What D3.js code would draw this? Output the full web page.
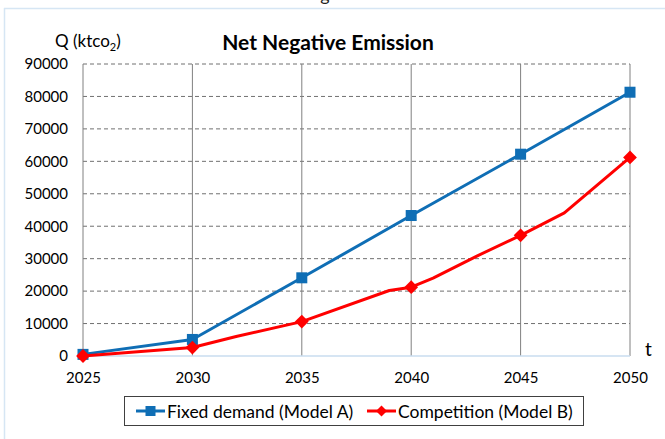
<!DOCTYPE html>
<html>
<head>
<meta charset="utf-8">
<script src="https://cdn.jsdelivr.net/npm/d3@7"></script>
<style>
  body { margin: 0; background: #fff; }
  svg { display: block; font-family: Lato, "Open Sans", sans-serif; }
</style>
</head>
<body>
<svg id="chart" width="665" height="439"></svg>
<script>
// Chart data
const years = [2025, 2030, 2035, 2040, 2045, 2050];
const yTicks = [0, 10000, 20000, 30000, 40000, 50000, 60000, 70000, 80000, 90000];
const fixedDemand = [500, 5100, 24100, 43300, 62200, 81300];
// Model B has extra bends between the 5-year markers
const competitionYears = [2025, 2030, 2032, 2035, 2039, 2040, 2041, 2043, 2045, 2047, 2050];
const competitionValues = [0, 2600, 6000, 10600, 20200, 21200, 24000, 30800, 37200, 44100, 61200];

const blue = '#0F6EB5';
const red = '#FF0000';

const margin = { top: 64, right: 35, bottom: 83, left: 83 };
const width = 665 - margin.left - margin.right;
const height = 439 - margin.top - margin.bottom;

const svg = d3.select('#chart');

// faint frame lines of the surrounding page
svg.append('line').attr('x1', 4).attr('x2', 665).attr('y1', 8.5).attr('y2', 8.5)
    .attr('stroke', '#d6e6f4').attr('stroke-width', 1.5);
svg.append('line').attr('x1', 4.5).attr('x2', 4.5).attr('y1', 8).attr('y2', 439)
    .attr('stroke', '#d6e6f4').attr('stroke-width', 1.5);
// clipped caption from above
svg.append('text').attr('x', 325).attr('y', 1).attr('text-anchor', 'middle')
    .attr('font-size', 18).attr('fill', '#222').text('g');

const g = svg.append('g').attr('transform', `translate(${margin.left},${margin.top})`);

const x = d3.scaleLinear().domain([2025, 2050]).range([0, width]);
const y = d3.scaleLinear().domain([0, 90000]).range([height, 0]);

// horizontal dashed grid
g.append('g')
    .selectAll('line')
    .data(yTicks.filter(d => d > 0))
    .enter()
    .append('line')
    .attr('x1', 0).attr('x2', width)
    .attr('y1', d => y(d)).attr('y2', d => y(d))
    .attr('stroke', '#707070')
    .attr('stroke-width', 1)
    .attr('stroke-dasharray', '4,3');

// vertical solid grid
g.append('g')
    .selectAll('line')
    .data(years)
    .enter()
    .append('line')
    .attr('x1', d => x(d)).attr('x2', d => x(d))
    .attr('y1', 0).attr('y2', height)
    .attr('stroke', '#808080')
    .attr('stroke-width', 1);

// baseline
g.append('line').attr('x1', 0).attr('x2', width).attr('y1', y(0)).attr('y2', y(0))
    .attr('stroke', '#c9dcef').attr('stroke-width', 1.5);

// axes
const yAxis = g.append('g')
    .call(d3.axisLeft(y).tickValues(yTicks).tickSize(0).tickPadding(15).tickFormat(d3.format('d')));
yAxis.select('.domain').remove();
yAxis.selectAll('text').attr('font-size', 15).attr('fill', '#000')
    .attr('font-family', 'Lato, "Open Sans", sans-serif');

const xAxis = g.append('g')
    .attr('transform', `translate(0,${height})`)
    .call(d3.axisBottom(x).tickValues(years).tickSize(0).tickPadding(16).tickFormat(d3.format('d')));
xAxis.select('.domain').remove();
xAxis.selectAll('text').attr('font-size', 15).attr('fill', '#000')
    .attr('font-family', 'Lato, "Open Sans", sans-serif');

// series lines
const line = d3.line().x(d => x(d[0])).y(d => y(d[1]));

const blueData = years.map((yr, i) => [yr, fixedDemand[i]]);
const redData = competitionYears.map((yr, i) => [yr, competitionValues[i]]);

g.append('path').datum(blueData)
    .attr('fill', 'none').attr('stroke', blue).attr('stroke-width', 3)
    .attr('stroke-linejoin', 'round').attr('d', line);

g.selectAll('.sq').data(blueData).enter().append('rect')
    .attr('x', d => x(d[0]) - 5.5).attr('y', d => y(d[1]) - 5.5)
    .attr('width', 11).attr('height', 11).attr('fill', blue);

g.append('path').datum(redData)
    .attr('fill', 'none').attr('stroke', red).attr('stroke-width', 3)
    .attr('stroke-linejoin', 'round').attr('d', line);

g.selectAll('.dm').data(redData.filter(d => d[0] % 5 === 0)).enter().append('path')
    .attr('transform', d => `translate(${x(d[0])},${y(d[1])}) rotate(45)`)
    .attr('d', d3.symbol().type(d3.symbolSquare).size(95))
    .attr('fill', red);

// titles
svg.append('text').attr('x', 328).attr('y', 50).attr('text-anchor', 'middle')
    .attr('font-size', 21).attr('font-weight', 'bold').attr('fill', '#000')
    .text('Net Negative Emission');

const ql = svg.append('text').attr('x', 55).attr('y', 47).attr('font-size', 17).attr('fill', '#000');
ql.append('tspan').text('Q (ktco');
ql.append('tspan').attr('font-size', 11).attr('dy', 4).text('2');
ql.append('tspan').attr('dy', -4).text(')');

svg.append('text').attr('x', 645).attr('y', 356).attr('font-size', 19).attr('fill', '#000').text('t');

// legend
const legend = svg.append('g');
legend.append('rect').attr('x', 124.5).attr('y', 396.5).attr('width', 459).attr('height', 29)
    .attr('fill', '#fff').attr('stroke', '#404040').attr('stroke-width', 1);

const items = [
    { label: 'Fixed demand (Model A)', color: blue, shape: 'square', x: 136 },
    { label: 'Competition (Model B)', color: red, shape: 'diamond', x: 367 }
];
items.forEach(it => {
    const li = legend.append('g').attr('transform', `translate(${it.x},411)`);
    li.append('line').attr('x1', 0).attr('x2', 29).attr('stroke', it.color).attr('stroke-width', 3);
    if (it.shape === 'square') {
        li.append('rect').attr('x', 9.5).attr('y', -5).attr('width', 10).attr('height', 10).attr('fill', it.color);
    } else {
        li.append('path').attr('transform', 'translate(14.5,0) rotate(45)')
            .attr('d', d3.symbol().type(d3.symbolSquare).size(60)).attr('fill', it.color);
    }
    li.append('text').attr('x', 31).attr('y', 6.5).attr('font-size', 17.5).attr('fill', '#000').text(it.label);
});
</script>
</body>
</html>
